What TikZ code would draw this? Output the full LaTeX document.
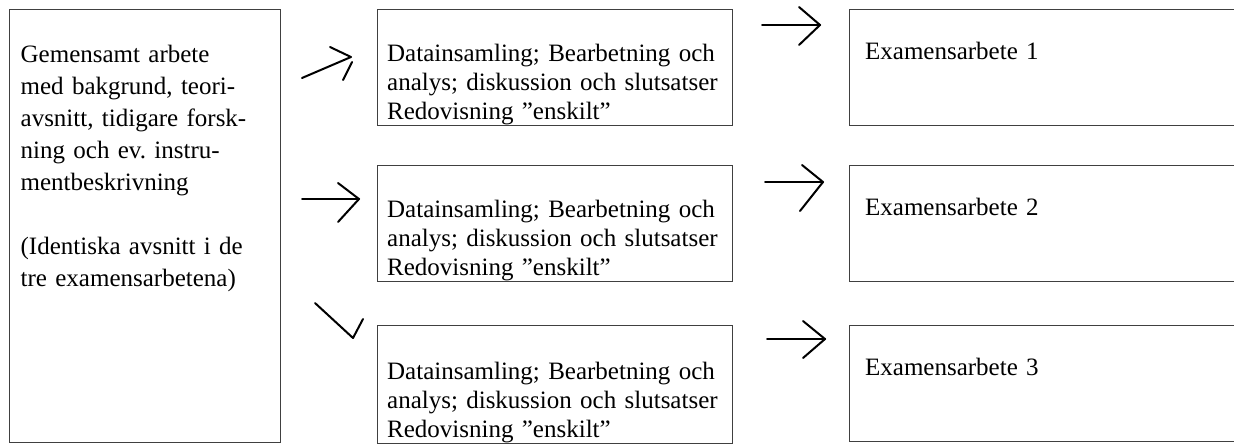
\documentclass[tikz,border=0pt]{standalone}
\usepackage{fontspec}
\setmainfont{Liberation Serif}
\frenchspacing

\begin{document}
\begin{tikzpicture}[
  x=0.5pt, y=-0.5pt,
  box/.style={draw=black!75, line width=0.65pt, anchor=north west, inner xsep=4.5pt, inner ysep=0pt, align=left, font=\fontsize{12.5}{14.5}\selectfont},
  delbox/.style={box, minimum width=177.5pt, text width=168pt, text height=26pt, text depth=32pt},
  exbox/.style={box, minimum width=205.5pt, text width=190pt, inner xsep=5.5pt, text height=25pt, text depth=33pt},
  pil/.style={line width=1pt, line cap=round, line join=round}
]
\path[use as bounding box, fill=white] (0,0) rectangle (1234,446);
\clip (0,0) rectangle (1234,446);

% gemensam del
\node[box, minimum width=135.5pt, text width=124.5pt, inner xsep=5.5pt, text height=26.5pt, text depth=190pt, font=\fontsize{12.5}{16}\selectfont] (common) at (9,9)
  {\mbox{Gemensamt arbete}\\\mbox{med bakgrund, teori-}\\\mbox{avsnitt, tidigare forsk-}\\\mbox{ning och ev. instru-}\\\mbox{mentbeskrivning}\\[16pt]\mbox{(Identiska avsnitt i de}\\\mbox{tre examensarbetena)}};

% enskilda delar
\node[delbox] (del1) at (377,9)   {\mbox{Datainsamling; Bearbetning och}\\\mbox{analys; diskussion och slutsatser}\\\mbox{Redovisning ”enskilt”}};
\node[delbox] (del2) at (377,165) {\mbox{Datainsamling; Bearbetning och}\\\mbox{analys; diskussion och slutsatser}\\\mbox{Redovisning ”enskilt”}};
\node[delbox, text height=27pt] (del3) at (377,325) {\mbox{Datainsamling; Bearbetning och}\\\mbox{analys; diskussion och slutsatser}\\\mbox{Redovisning ”enskilt”}};

% examensarbeten
\node[exbox] (ex1) at (849,9)   {Examensarbete 1};
\node[exbox] (ex2) at (849,165) {Examensarbete 2};
\node[exbox] (ex3) at (849,325) {Examensarbete 3};

% pilar
\coordinate (p1s) at (302,78);  \coordinate (p1e) at (351,57);
\coordinate (p2s) at (302,199); \coordinate (p2e) at (359,199);
\coordinate (p3s) at (315,303); \coordinate (p3e) at (353,338);
\coordinate (q1s) at (762,25);  \coordinate (q1e) at (820,25);
\coordinate (q2s) at (765,182); \coordinate (q2e) at (823,182);
\coordinate (q3s) at (767,339); \coordinate (q3e) at (825,339);

\draw[pil] (p1s) -- (p1e) -- ++(-21,-10);
\draw[pil] (352,62) -- (343,80);
\draw[pil] (p2s) -- (p2e);
\draw[pil] (338,183) -- (p2e) -- (338,222);
\draw[pil] (p3s) -- (p3e) -- ++(10,-19);

\draw[pil] (q1s) -- (q1e);
\draw[pil] (799,7) -- (q1e) -- (799,45);
\draw[pil] (q2s) -- (q2e);
\draw[pil] (802,165) -- (q2e) -- (800,211);
\draw[pil] (q3s) -- (q3e);
\draw[pil] (803,321) -- (q3e) -- (803,358);
\end{tikzpicture}
\end{document}
